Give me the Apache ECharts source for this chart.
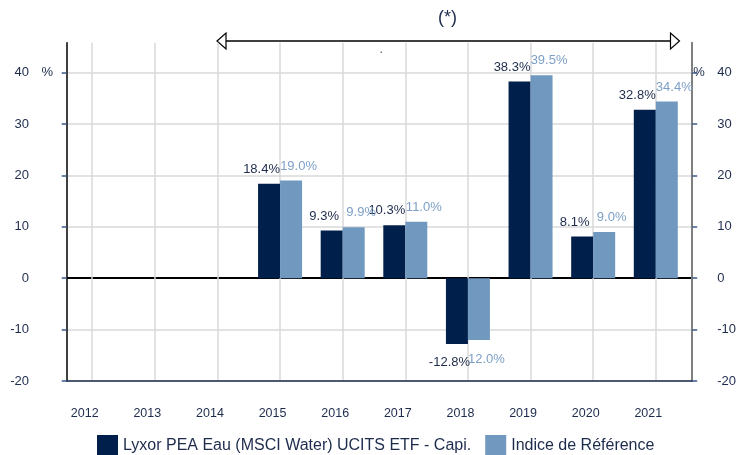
<!DOCTYPE html>
<html>
<head>
<meta charset="utf-8">
<script src="https://cdn.jsdelivr.net/npm/echarts@6/dist/echarts.min.js"></script>
<style>html,body{margin:0;padding:0;background:#fff}#c{width:739px;height:455px}</style>
</head>
<body>
<div id="c"></div>
<script>
const categories = ['2012','2013','2014','2015','2016','2017','2018','2019','2020','2021'];
const fundValues = [null, null, null, 18.4, 9.3, 10.3, -12.8, 38.3, 8.1, 32.8];
const indexValues = [null, null, null, 19.0, 9.9, 11.0, -12.0, 39.5, 9.0, 34.4];
const yTicks = [-20, -10, 0, 10, 20, 30, 40];
const seriesNames = ['Lyxor PEA Eau (MSCI Water) UCITS ETF - Capi.', 'Indice de Référence'];

const FONT = "'Liberation Sans', Arial, sans-serif";
const NAVY = '#001f4b';
const LIGHT = '#7199bf';
const TXT = '#1d2b4c';
const LIGHTTXT = '#7d9fc6';
const Y_MIN = -20, Y_MAX = 45.84;

function items(vals, dist) {
  return vals.map(v => v == null ? '-' : (v < 0 ? {value: v, label: {position: 'bottom', distance: dist}} : v));
}

const chart = echarts.init(document.getElementById('c'), null, {renderer: 'canvas'});
const option = {
  animation: false,
  textStyle: {fontFamily: FONT},
  grid: [
    {left: 92.2, right: 83.2, top: 42.7, bottom: 74, containLabel: false},
    {left: 66.7, right: 46.7, top: 42.7, bottom: 74, containLabel: false}
  ],
  legend: {
    left: 92, top: 430, itemWidth: 21, itemHeight: 21, itemGap: 14,
    icon: 'rect',
    textStyle: {fontSize: 16, color: TXT, fontFamily: FONT},
    data: seriesNames
  },
  xAxis: [
    {
      type: 'category', gridIndex: 0, data: categories, boundaryGap: false,
      axisLine: {show: false}, axisTick: {show: false},
      axisLabel: {color: TXT, fontSize: 12.5, margin: 26, padding: [0, 15, 0, 0], fontFamily: FONT},
      splitLine: {show: true, lineStyle: {color: '#d9d9d9', width: 1.5}}
    },
    {
      type: 'value', gridIndex: 1, min: 0, max: 1, position: 'bottom',
      axisLine: {show: true, onZero: false, lineStyle: {color: '#1d2b4c', width: 1.5}},
      axisTick: {show: false}, axisLabel: {show: false}, splitLine: {show: false}
    }
  ],
  yAxis: [
    {type: 'value', gridIndex: 0, min: Y_MIN, max: Y_MAX, interval: 10, show: false, splitLine: {show: false}},
    {
      type: 'value', gridIndex: 1, min: Y_MIN, max: Y_MAX, interval: 10, position: 'left',
      axisLine: {show: true, lineStyle: {color: '#000', width: 1.5}},
      axisTick: {show: true, length: 5, lineStyle: {color: '#3a5a8c', width: 1.5}},
      axisLabel: {
        margin: 13.7, showMaxLabel: false, fontSize: 13, color: TXT,
        formatter: v => yTicks.indexOf(v) < 0 ? '' : '{v|' + v + '}{p|' + (v === 40 ? '%' : ' ') + '}',
        rich: {v: {fontSize: 13, color: TXT, fontFamily: FONT}, p: {fontSize: 13, color: TXT, width: 24, align: 'right', fontFamily: FONT}}
      },
      splitLine: {show: true, lineStyle: {color: ['#e2e2e2', '#e2e2e2', '#000', '#e2e2e2', '#e2e2e2', '#e2e2e2', '#e2e2e2', 'rgba(0,0,0,0)'], width: 2}}
    },
    {
      type: 'value', gridIndex: 1, min: Y_MIN, max: Y_MAX, interval: 10, position: 'right',
      axisLine: {show: true, lineStyle: {color: '#7f7f7f', width: 2}},
      axisTick: {show: true, length: 5, lineStyle: {color: '#3a5a8c', width: 1.5}},
      axisLabel: {
        margin: 1, showMaxLabel: false, fontSize: 13, color: TXT,
        formatter: v => yTicks.indexOf(v) < 0 ? '' : '{p|' + (v === 40 ? '%' : ' ') + '}{v|' + v + '}',
        rich: {v: {fontSize: 13, color: TXT, fontFamily: FONT}, p: {fontSize: 13, color: TXT, width: 24, align: 'left', fontFamily: FONT}}
      },
      splitLine: {show: false}
    }
  ],
  series: [
    {
      name: seriesNames[0], type: 'bar', xAxisIndex: 0, yAxisIndex: 0,
      data: items(fundValues, 12), barWidth: 22, barGap: '0%',
      itemStyle: {color: NAVY},
      label: {show: true, position: 'top', distance: 8, offset: [-7.5, 0], fontSize: 13, color: TXT, fontFamily: FONT,
        formatter: p => p.value.toFixed(1) + '%'}
    },
    {
      name: seriesNames[1], type: 'bar', xAxisIndex: 0, yAxisIndex: 0,
      data: items(indexValues, 13), barWidth: 22, barGap: '0%',
      itemStyle: {color: LIGHT},
      label: {show: true, position: 'top', distance: 8, offset: [7.5, 0], fontSize: 13, color: LIGHTTXT, fontFamily: FONT,
        formatter: p => Math.abs(p.value).toFixed(1) + '%'}
    }
  ],
  graphic: [
    {type: 'line', shape: {x1: 225, y1: 41, x2: 671, y2: 41}, style: {stroke: '#000', lineWidth: 1.6}},
    {type: 'polygon', shape: {points: [[217, 41], [226, 33], [226, 49]]}, style: {fill: '#fff', stroke: '#000', lineWidth: 1.2}},
    {type: 'polygon', shape: {points: [[679.5, 41], [670.5, 33], [670.5, 49]]}, style: {fill: '#fff', stroke: '#000', lineWidth: 1.2}},
    {type: 'text', left: 438, top: 9, style: {text: '(*)', font: "18px 'Liberation Sans', Arial, sans-serif", fill: '#1d2b4c'}},
    {type: 'rect', shape: {x: 380.5, y: 51.5, width: 1.5, height: 1.5}, style: {fill: '#777'}}
  ]
};
chart.setOption(option);
</script>
</body>
</html>
